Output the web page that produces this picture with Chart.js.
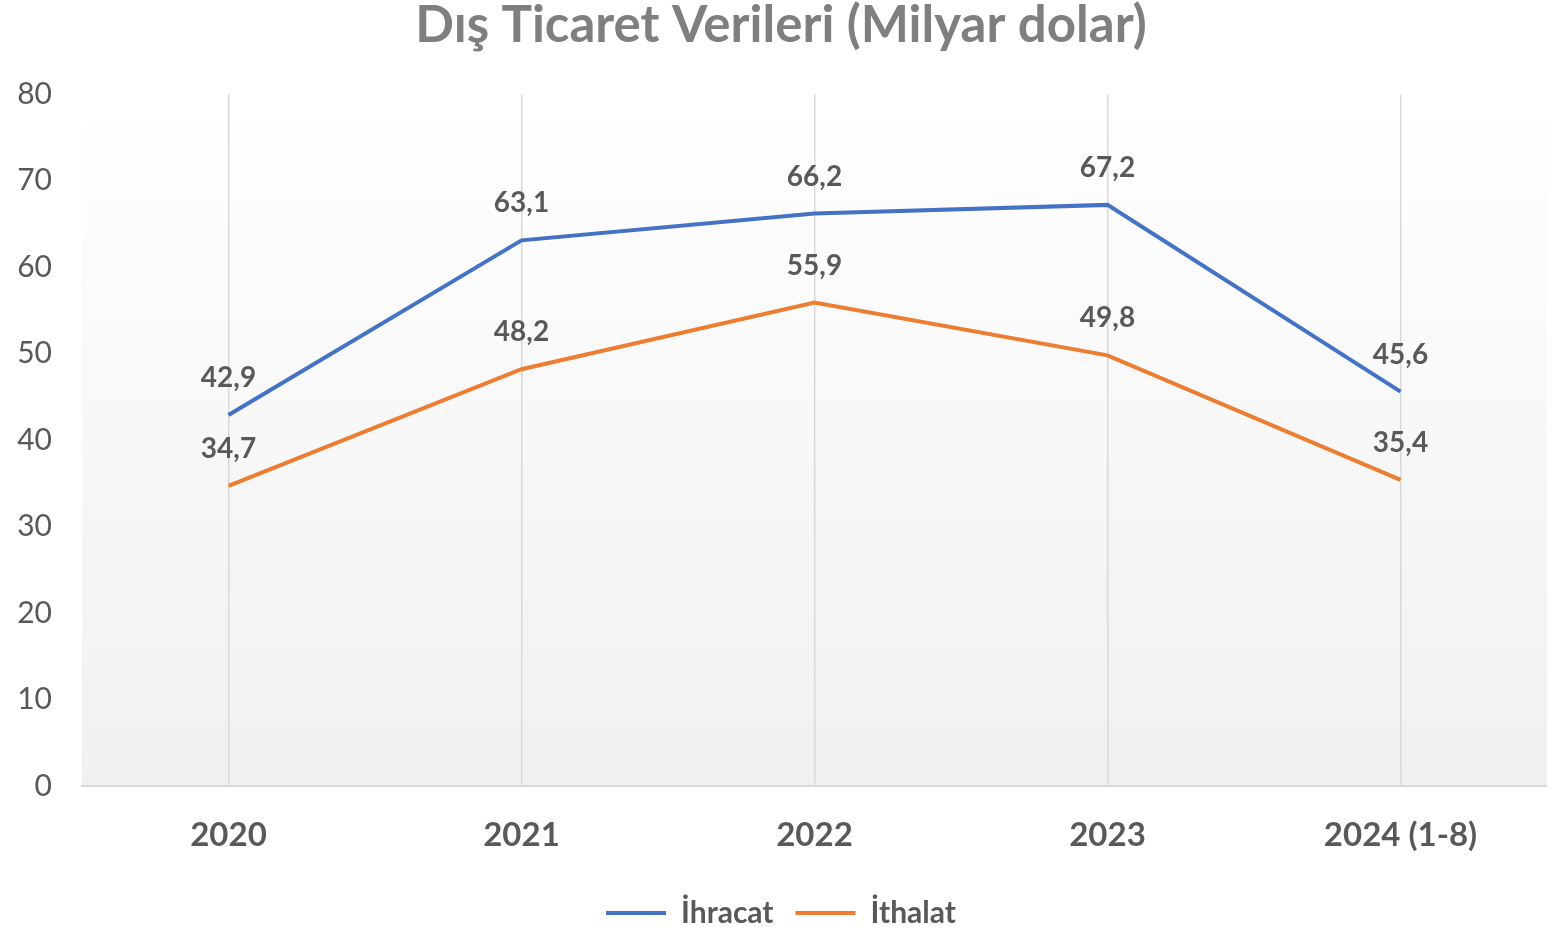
<!DOCTYPE html>
<html>
<head>
<meta charset="utf-8">
<script src="https://cdn.jsdelivr.net/npm/chart.js@4/dist/chart.umd.min.js"></script>
<style>
  html, body { margin: 0; padding: 0; background: #fff; }
  #wrap { width: 1557px; height: 930px; }
</style>
</head>
<body>
<div id="wrap"><canvas id="my-chart"></canvas></div>
<script>
const years = ['2020', '2021', '2022', '2023', '2024 (1-8)'];
const ihracat = [42.9, 63.1, 66.2, 67.2, 45.6];
const ithalat = [34.7, 48.2, 55.9, 49.8, 35.4];
const yTicks = [0, 10, 20, 30, 40, 50, 60, 70, 80];

const textColor = '#595959';
const fontName = 'Lato';

// plot area gradient, white at top to light grey at the bottom
const plotBackground = {
  id: 'plotBackground',
  beforeDraw(chart) {
    const { ctx, chartArea: a } = chart;
    const g = ctx.createLinearGradient(0, a.top, 0, a.bottom);
    g.addColorStop(0, '#ffffff');
    g.addColorStop(1, '#f0f0f0');
    ctx.save();
    ctx.fillStyle = g;
    ctx.fillRect(a.left, a.top, a.right - a.left, a.bottom - a.top);
    ctx.restore();
  }
};

// value labels above each point, with a decimal comma
const valueLabels = {
  id: 'valueLabels',
  afterDatasetsDraw(chart) {
    const ctx = chart.ctx;
    ctx.save();
    ctx.font = 'bold 28px ' + fontName;
    ctx.fillStyle = textColor;
    ctx.textAlign = 'center';
    ctx.textBaseline = 'middle';
    chart.data.datasets.forEach((ds, i) => {
      chart.getDatasetMeta(i).data.forEach((pt, j) => {
        ctx.fillText(ds.data[j].toFixed(1).replace('.', ','), pt.x, pt.y - 37);
      });
    });
    ctx.restore();
  }
};

const ctx = document.getElementById('my-chart');
const myChart = new Chart(ctx, {
  type: 'line',
  data: {
    labels: years,
    datasets: [{
      label: 'İhracat',
      data: ihracat,
      borderColor: '#4472C4',
      backgroundColor: '#4472C4',
      borderWidth: 4,
      pointRadius: 0,
      tension: 0
    }, {
      label: 'İthalat',
      data: ithalat,
      borderColor: '#ED7D31',
      backgroundColor: '#ED7D31',
      borderWidth: 4,
      pointRadius: 0,
      tension: 0
    }]
  },
  options: {
    responsive: true,
    maintainAspectRatio: false,
    animation: false,
    layout: { padding: { left: 15, right: 10, top: 0, bottom: -8 } },
    plugins: {
      title: {
        display: true,
        text: 'Dış Ticaret Verileri (Milyar dolar)',
        color: '#7f7f7f',
        font: { family: fontName, size: 51, weight: 'bold' },
        padding: { top: -5, bottom: 38 }
      },
      legend: {
        position: 'bottom',
        labels: {
          usePointStyle: true,
          pointStyle: 'line',
          pointStyleWidth: 60,
          color: textColor,
          font: { family: fontName, size: 30, weight: 'bold' },
          padding: 22
        }
      },
      tooltip: { enabled: false }
    },
    scales: {
      x: {
        offset: true,
        grid: { offset: false, color: '#d9d9d9', lineWidth: 1.5, drawTicks: false },
        border: { color: '#d9d9d9', width: 2 },
        ticks: {
          color: textColor,
          font: { family: fontName, size: 33, weight: 'bold' },
          padding: 30,
          maxRotation: 0
        },
        afterFit: s => { s.height = 90; }
      },
      y: {
        min: 0,
        max: 80,
        grid: { display: false, drawTicks: false },
        border: { display: false },
        afterBuildTicks: s => { s.ticks = yTicks.map(v => ({ value: v })); },
        ticks: {
          color: textColor,
          font: { family: fontName, size: 30 },
          padding: 30
        },
        afterFit: s => { s.width = 67; }
      }
    }
  },
  plugins: [plotBackground, valueLabels]
});
</script>
</body>
</html>
